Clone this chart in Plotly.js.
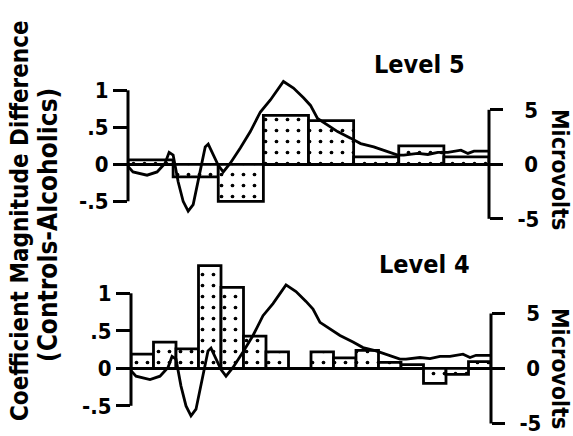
<!DOCTYPE html>
<html>
<head>
<meta charset="utf-8">
<script src="https://cdn.plot.ly/plotly-3.0.1.min.js"></script>
<style>
  html, body { margin: 0; padding: 0; background: #fff; }
  #chart { width: 573px; height: 436px; }
</style>
</head>
<body>
<div id="chart"></div>
<script>
// ---- data ----
const timeSpan = 360;                 // time units across each panel
const level5Coefs = [0.06, -0.17, -0.5, 0.66, 0.59, 0.10, 0.25, 0.10];
const level4Coefs = [0.19, 0.35, 0.26, 1.37, 1.08, 0.43, 0.22, 0.0,
                     0.22, 0.14, 0.24, 0.08, 0.05, -0.20, -0.08, 0.09];
const erpTime = [0, 5, 19, 29, 37, 41, 45, 47, 50, 55, 60, 65, 70, 74, 77, 80,
                 85, 90, 95, 102, 112, 122, 132, 142, 155, 165, 175, 182, 189,
                 199, 209, 222, 232, 245, 259, 269, 275, 289, 299, 309, 319,
                 332, 339, 345, 359];
const erpMicrovolts = [-0.2, -0.7, -1.0, -0.7, 0.1, 1.1, 0.85, -0.06, -1.6, -3.4,
                       -4.3, -3.7, -1.6, 0.24, 1.6, 1.86, 0.85, -0.1, -0.7, 0.1,
                       1.5, 3.0, 4.8, 5.9, 7.6, 7.0, 6.1, 5.4, 4.2, 3.6, 3.0, 2.4,
                       1.9, 1.6, 1.2, 0.85, 0.85, 1.0, 0.9, 1.1, 1.1, 1.3, 1.0,
                       1.2, 1.2];
const coefTicks = [-0.5, 0, 0.5, 1];
const coefTickText = ['-.5', '0', '.5', '1'];
const uvTicks = [-5, 0, 5];
const uvTickText = ['-5', '\u00a00', '\u00a05'];
const panelTitles = ['Level 5', 'Level 4'];
const yTitleLine1 = 'Coefficient Magnitude Difference';
const yTitleLine2 = '(Controls-Alcoholics)';
const rightTitle = 'Microvolts';

// ---- build ----
function centers(n) {
  const w = timeSpan / n;
  return Array.from({length: n}, (_, i) => w * (i + 0.5));
}
const FONT = '"DejaVu Sans Condensed", "DejaVu Sans", sans-serif';
const WEIGHT = 'bold';
const barMarker = {
  color: 'white',
  line: {color: 'black', width: 2.8},
  pattern: {shape: '.', fgcolor: 'black', bgcolor: 'white', size: 11, solidity: 0.09}
};

const traces = [
  {type: 'bar', x: centers(level5Coefs.length), y: level5Coefs,
   width: timeSpan / level5Coefs.length, marker: barMarker,
   xaxis: 'x', yaxis: 'y', hoverinfo: 'none'},
  {type: 'scatter', mode: 'lines', x: erpTime, y: erpMicrovolts,
   line: {color: 'black', width: 2.8}, xaxis: 'x', yaxis: 'y2', hoverinfo: 'none'},
  {type: 'bar', x: centers(level4Coefs.length), y: level4Coefs,
   width: timeSpan / level4Coefs.length, marker: barMarker,
   xaxis: 'x2', yaxis: 'y3', hoverinfo: 'none'},
  {type: 'scatter', mode: 'lines', x: erpTime, y: erpMicrovolts,
   line: {color: 'black', width: 2.8}, xaxis: 'x2', yaxis: 'y4', hoverinfo: 'none'}
];

const W = 573, H = 436;
const fx = px => px / W;
const fy = py => 1 - py / H;
const font = (size) => ({family: FONT, size: size, color: 'black', weight: WEIGHT});

function xAxis(d0, d1) {
  return {domain: [fx(d0), fx(d1)], range: [0, timeSpan], visible: false, fixedrange: true};
}
function leftAxis(anchor, top, bottom, zeroPx, scale) {
  return {
    anchor: anchor, domain: [fy(bottom), fy(top)],
    range: [-(bottom - zeroPx) / scale, (zeroPx - top) / scale],
    tickvals: coefTicks, ticktext: coefTickText,
    ticks: 'outside', ticklen: 14, tickwidth: 3, tickcolor: 'black',
    showline: false, showgrid: false,
    zeroline: true, zerolinecolor: 'black', zerolinewidth: 3,
    ticklabeloverflow: 'allow',
    tickfont: font(22)
  };
}
function rightAxis(anchor, over, top, bottom, zeroPx, scale) {
  return {
    anchor: anchor, overlaying: over, side: 'right', domain: [fy(bottom), fy(top)],
    range: [-(bottom - zeroPx) / scale, (zeroPx - top) / scale],
    tickvals: uvTicks, ticktext: uvTickText,
    ticks: 'outside', ticklen: 13, tickwidth: 3, tickcolor: 'black',
    showline: false, showgrid: false, zeroline: false,
    ticklabelstandoff: 10, ticklabeloverflow: 'allow',
    tickfont: font(22)
  };
}

const spine = (xref, xpos, yref, y0, y1) => ({
  type: 'line', xref: xref + ' domain', x0: xpos, x1: xpos,
  yref: yref, y0: y0, y1: y1, line: {color: 'black', width: 3}
});

const ann = (text, x, y, size, angle) => ({
  text: text, xref: 'paper', yref: 'paper', x: fx(x), y: fy(y),
  xanchor: 'center', yanchor: 'middle', showarrow: false, textangle: angle || 0,
  font: font(size)
});

const layout = {
  width: W, height: H,
  margin: {l: 0, r: 0, t: 0, b: 0},
  paper_bgcolor: 'white', plot_bgcolor: 'rgba(0,0,0,0)',
  showlegend: false, bargap: 0,
  xaxis: xAxis(128, 489),
  xaxis2: xAxis(131, 491),
  yaxis: leftAxis('x', 70, 228, 164.3, 74),
  yaxis2: rightAxis('x', 'y', 70, 228, 164.3, 10.9),
  yaxis3: leftAxis('x2', 258, 436, 368.3, 75),
  yaxis4: rightAxis('x2', 'y3', 258, 436, 368.5, 11.0),
  shapes: [
    spine('x', 0, 'y', coefTicks[0], coefTicks[coefTicks.length - 1]),
    spine('x', 1, 'y2', uvTicks[0], uvTicks[uvTicks.length - 1]),
    spine('x2', 0, 'y3', coefTicks[0], coefTicks[coefTicks.length - 1]),
    spine('x2', 1, 'y4', uvTicks[0], uvTicks[uvTicks.length - 1])
  ],
  annotations: [
    ann(panelTitles[0], 419, 65, 25),
    ann(panelTitles[1], 424, 264, 25),
    ann(rightTitle, 560, 169, 23, 90),
    ann(rightTitle, 560, 368, 23, 90),
    ann(yTitleLine1, 20, 221, 24, -90),
    ann(yTitleLine2, 48, 225, 26, -90)
  ]
};

Plotly.newPlot('chart', traces, layout, {staticPlot: true, displayModeBar: false});
</script>
</body>
</html>
